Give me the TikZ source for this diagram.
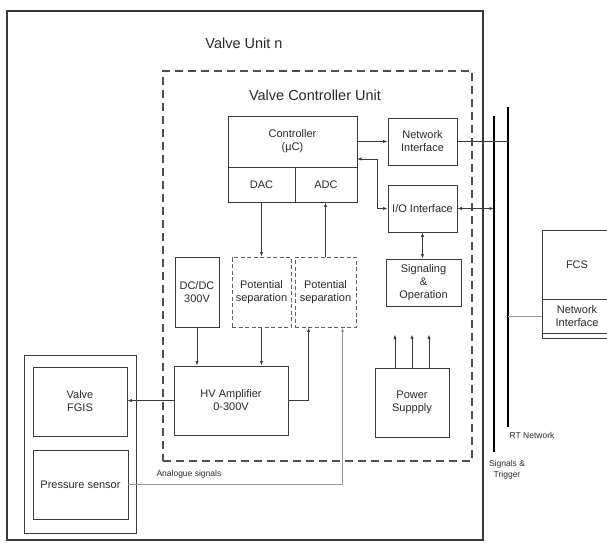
\documentclass[tikz,border=0pt]{standalone}
\usepackage{fontspec}
\setmainfont{Liberation Sans}
\usetikzlibrary{arrows.meta,calc}
\definecolor{ink}{HTML}{3A3A3A}
\definecolor{txt}{HTML}{2A2A2A}
\tikzset{
  every node/.style={text=txt},
  box/.style={draw=ink, line width=0.9pt, rectangle, inner sep=0pt, align=center,
              font=\fontsize{11}{13}\selectfont},
  dbox/.style={box, dash pattern=on 4pt off 2.5pt, draw=ink!80},
  conn/.style={draw=ink, line width=0.8pt},
  tip/.style={-{Latex[length=4.5pt,width=3.2pt]}},
  arr/.style={conn, tip},
  darr/.style={conn, {Latex[length=4.5pt,width=3.2pt]}-{Latex[length=4.5pt,width=3.2pt]}},
  graycon/.style={draw=gray!80, line width=0.8pt},
  bus/.style={draw=black, line width=1.8pt},
  biglabel/.style={font=\fontsize{14.5}{17}\selectfont},
  smalllabel/.style={font=\fontsize{8.5}{10.5}\selectfont, align=center},
}
\begin{document}
\begin{tikzpicture}[x=1pt,y=-1pt]
\useasboundingbox (0,0) rectangle (607,545);
\clip (0,0) rectangle (607,545);
\fill[white] (0,0) rectangle (607,545);

% outer valve unit
\node[box, line width=1.1pt, minimum width=476pt, minimum height=529pt] (vu) at (245,275.5) {};
\node[biglabel] (vulab) at (244,43) {Valve Unit n};

% valve controller unit (dashed)
\node[draw=ink!90, line width=1.6pt, dash pattern=on 8pt off 5pt, rectangle, inner sep=0pt,
      minimum width=309pt, minimum height=390pt] (vcu) at (317.5,266) {};
\node[biglabel] (vculab) at (315,95) {Valve Controller Unit};

% controller
\node[box, minimum width=129pt, minimum height=51pt] (ctrl) at (292.5,141.5) {Controller\\(µC)};
\node[box, minimum width=67pt, minimum height=35pt] (dac) at (261.5,184.5) {DAC};
\node[box, minimum width=62pt, minimum height=35pt] (adc) at (326,184.5) {ADC};

\node[box, minimum width=69pt, minimum height=47pt] (ni) at (422.5,141.5) {Network\\Interface};
\node[box, minimum width=69pt, minimum height=47pt] (io) at (422.5,208.5) {I/O Interface};
\node[box, minimum width=75pt, minimum height=47pt] (sig) at (423.5,282.5) {Signaling\\\&\\Operation};

\node[box, minimum width=44pt, minimum height=70pt] (dcdc) at (197,292) {DC/DC\\300V};
\node[dbox, minimum width=59pt, minimum height=70pt] (ps1) at (261.5,292) {Potential\\separation};
\node[dbox, minimum width=61pt, minimum height=70pt] (ps2) at (325.5,292) {Potential\\separation};

\node[box, minimum width=114pt, minimum height=69pt] (hv) at (231,400.5) {HV Amplifier\\0-300V};
\node[box, minimum width=74pt, minimum height=69pt] (pwr) at (412,402.5) {Power\\Suppply};

% sensor group
\node[box, minimum width=112pt, minimum height=178pt] (grp) at (80,444) {};
\node[box, minimum width=94pt, minimum height=69pt] (valve) at (80,401.5) {Valve\\FGIS};
\node[box, minimum width=95pt, minimum height=69pt] (press) at (80.5,484.5) {Pressure sensor};

% FCS
\node[box, minimum width=70pt, minimum height=69pt] (fcs) at (577,264.5) {FCS};
\node[box, draw=ink, minimum width=70pt, minimum height=39pt, text depth=4pt] (fcsni) at (577,318.5) {Network\\Interface};
\draw[draw=ink, line width=0.8pt] ($(fcsni.south west)+(0,-5)$) -- ($(fcsni.south east)+(0,-5)$);

% buses
\coordinate (sigTop) at (494,116);
\coordinate (sigBot) at (494,452);
\coordinate (rtTop) at (508,107);
\coordinate (rtBot) at (508,427);
\draw[bus] (sigTop) -- (sigBot);
\draw[bus] (rtTop) -- (rtBot);
\node[smalllabel, anchor=north] (rtlab) at ($(rtBot)+(24,2)$) {RT Network};
\node[smalllabel, anchor=north] (siglab) at ($(sigBot)+(13,5)$) {Signals \&\\Trigger};

% connectors
\draw[arr] (ctrl.east) -- (ni.west);
\draw[conn] (ni.east) -- (ni.east -| rtTop);
\coordinate (cio) at (357,159);
\draw[darr] (cio) -- (377,159) |- (io.west);
\draw[darr] (io.east) -- (io.east -| sigTop);
\draw[darr] (io.south) -- (io.south |- sig.north);
\draw[arr] (dac.south) -- (ps1.north);
\draw[arr] (ps2.north) -- (ps2.north |- adc.south);
\draw[arr] (dcdc.south) -- (dcdc.south |- hv.north);
\draw[arr] (ps1.south) -- (ps1.south |- hv.north);
\draw[arr] (hv.east) -| ($(ps2.south west)+(14,0)$);
\draw[arr] (hv.west) -- (hv.west -| valve.east);
\draw[graycon, tip] (press.east) -| ($(ps2.south west)+(48,0)$);
\node[smalllabel, anchor=south west] (analab) at (153,482) {Analogue signals};
\foreach \dx in {-17,0,17}{
  \draw[arr] ($(pwr.north)+(\dx,0)$) -- ($(pwr.north)+(\dx,-33)$);
}
\draw[graycon] (rtTop |- 0,316) -- (fcsni.west |- 0,316);
\end{tikzpicture}
\end{document}
